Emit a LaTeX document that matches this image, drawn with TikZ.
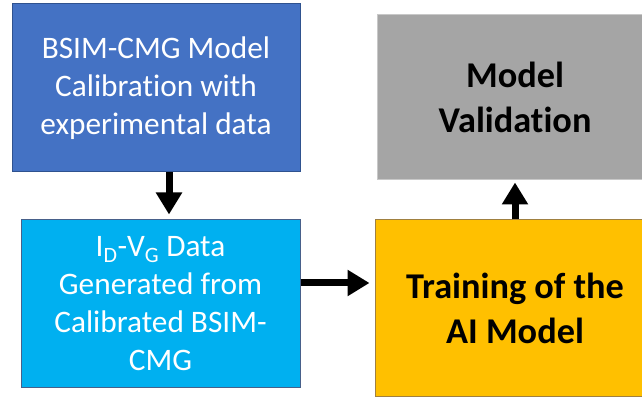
\documentclass[tikz,border=0pt]{standalone}
\usepackage{fontspec}
\setmainfont{Carlito}[Ligatures={NoCommon}]
\usetikzlibrary{arrows.meta}
\definecolor{cblue}{HTML}{4472C4}
\definecolor{cblueb}{HTML}{2F528F}
\definecolor{ccyan}{HTML}{00B0F0}
\definecolor{cgray}{HTML}{A5A5A5}
\definecolor{cgrayb}{HTML}{C8C8C8}
\definecolor{corange}{HTML}{FFC000}
\definecolor{corangeb}{HTML}{A08040}
\tikzset{
  boxbase/.style={rectangle, inner sep=0pt, align=center, line width=1pt},
  normtext/.style={font=\fontsize{31.3}{38}\selectfont},
  boldtext/.style={font=\fontsize{36.3}{45}\selectfont\bfseries},
  arr/.style={line width=7pt, -{Triangle[width=25pt,length=22pt]}}
}
\begin{document}
\begin{tikzpicture}[x=1pt,y=1pt]
\useasboundingbox (0,0) rectangle (642,398);
\clip (0,0) rectangle (642,398);
\node[boxbase, normtext, fill=cblue, draw=cblueb, text=white,
      minimum width=288pt, minimum height=168pt] (b1) at (156,310)
  {BSIM-CMG Model\\Calibration with\\experimental data};
\node[boxbase, normtext, fill=ccyan, draw=cblueb!70!gray, text=white,
      minimum width=279pt, minimum height=168pt] (b2) at (160.5,94)
  {I\textsubscript{D}-V\textsubscript{G} Data\\Generated from\\Calibrated BSIM-\\CMG};
\node[boxbase, boldtext, fill=cgray, draw=cgrayb,
      minimum width=276pt, minimum height=165pt] (b3) at (515,300.5)
  {Model\\Validation};
\node[boxbase, boldtext, fill=corange, draw=corangeb,
      minimum width=280pt, minimum height=177pt] (b4) at (515,89.5)
  {Training of the\\AI Model};
\draw[arr, shorten >=5pt] ([xshift=13pt]b1.south) -- ([xshift=8.5pt]b2.north);
\draw[arr, shorten >=5pt] ([yshift=21pt]b2.east) -- ([yshift=25.5pt]b4.west);
\draw[arr, shorten >=2pt] (b4.north) -- (b3.south);
\end{tikzpicture}
\end{document}
